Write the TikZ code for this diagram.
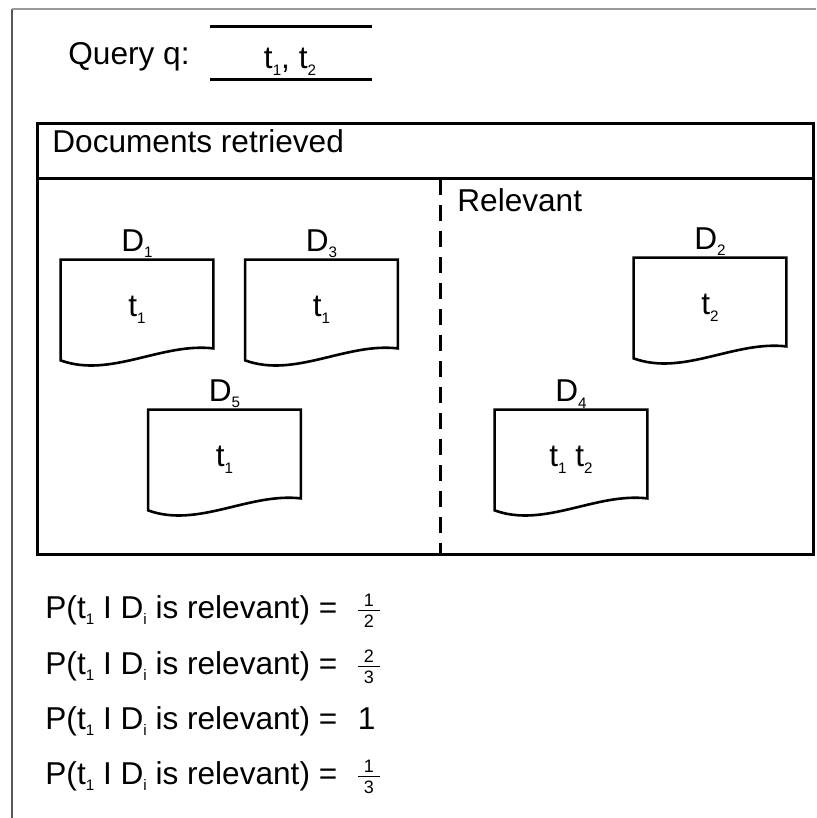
\documentclass[tikz,border=0pt]{standalone}
\usepackage{fontspec}
\setmainfont{Liberation Sans}
\newcommand\lsub[1]{\raisebox{-0.4ex}{\fontsize{7.6pt}{7.6pt}\selectfont #1}}
\newcommand\fsz{\fontsize{9pt}{9pt}\selectfont}
\newcommand\myfrac[2]{$\vcenter{\offinterlineskip\hbox to 11pt{\hfil\fsz #1\hfil}\kern1.8pt\hrule height 0.6pt\kern1.8pt\hbox to 11pt{\hfil\fsz #2\hfil}}$}
\begin{document}
\begin{tikzpicture}[x=0.5pt,y=-0.5pt,
  every node/.style={font=\fontsize{15.8pt}{18pt}\selectfont},
  docbox/.style={minimum width=76pt, minimum height=50pt, inner sep=0pt},
  docline/.style={line width=1.3pt, line join=miter},
  lab/.style={inner sep=0.6pt},
  frameline/.style={line width=1pt},
  thick line/.style={line width=1.5pt},
  formula/.style={anchor=base west, inner sep=0pt}]
\useasboundingbox (0,0) rectangle (816,818);
% outer frame
\coordinate (fbl) at (12,818);
\coordinate (ftl) at (12,9);
\coordinate (ftr) at (816,9);
\draw[frameline, black!65] (fbl) -- (ftl);
\draw[frameline, black!40] (ftl) -- (ftr);
% query
\node[anchor=base west, inner sep=0pt] (ql) at (68,65) {Query q:};
\node[anchor=base, inner sep=0pt] (qt) at (290,69) {t\lsub1, t\lsub2};
\coordinate (q1l) at (210,27); \coordinate (q1r) at (372,27);
\coordinate (q2l) at (210,80); \coordinate (q2r) at (372,80);
\draw[thick line] (q1l) -- (q1r);
\draw[thick line] (q2l) -- (q2r);
% retrieved box
\node[draw, thick line, anchor=north west, inner sep=0pt, minimum width=388pt, minimum height=215.5pt] (ret) at (36,122) {};
\coordinate (hl) at (36,179); \coordinate (hr) at (812,179);
\draw[thick line] (hl) -- (hr);
\coordinate (dt) at (440,179); \coordinate (db) at (440,553);
\draw[thick line, dash pattern=on 8pt off 5pt] (dt) -- (db);
\node[anchor=west, inner sep=0pt] (dr) at (52,141) {Documents retrieved};
\node[anchor=west, inner sep=0pt] (rel) at (457,200) {Relevant};
% documents
\node[docbox, label={[lab]above:D\lsub1}] (d1) at (137,310) {t\lsub1};
\node[docbox, label={[lab]above:D\lsub3}] (d3) at (321.5,310) {t\lsub1};
\node[docbox, label={[lab]above:D\lsub2}] (d2) at (710,308) {t\lsub2};
\node[docbox, label={[lab]above:D\lsub5}] (d5) at (224.5,460) {t\lsub1};
\node[docbox, label={[lab]above:D\lsub4}] (d4) at (571,460) {t\lsub1\ t\lsub2};
\foreach \n in {d1,d2,d3,d4,d5}
  \draw[docline] ([yshift=6pt]\n.south east) -- (\n.north east) -- (\n.north west) -- (\n.south west)
    .. controls ([xshift=25pt,yshift=-9pt]\n.south west) and ([xshift=-26pt,yshift=9pt]\n.south east) .. ([yshift=6pt]\n.south east) -- cycle;
% formulas
\node[formula] (f1) at (45,618) {P(t\lsub1 I D\lsub{i} is relevant) =\ \ \kern1.5pt\myfrac{1}{2}};
\node[formula] (f2) at (45,674) {P(t\lsub1 I D\lsub{i} is relevant) =\ \ \kern1.5pt\myfrac{2}{3}};
\node[formula] (f3) at (45,729) {P(t\lsub1 I D\lsub{i} is relevant) =\ \ \kern1.5pt1};
\node[formula] (f4) at (45,784) {P(t\lsub1 I D\lsub{i} is relevant) =\ \ \kern1.5pt\myfrac{1}{3}};
\end{tikzpicture}
\end{document}
